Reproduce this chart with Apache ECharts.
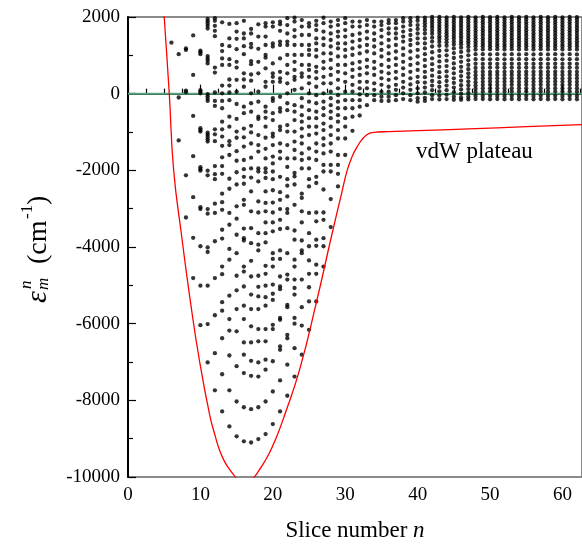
<!DOCTYPE html>
<html><head><meta charset="utf-8">
<script src="https://cdn.jsdelivr.net/npm/echarts@6/dist/echarts.min.js"></script>
<style>html,body{margin:0;padding:0;background:#fff}#c{width:582px;height:545px}</style>
</head><body><div id="c"></div>
<script>
// ---- data: eigenvalues (cm^-1) per slice n ----
const lv06 = [1330];
const lv07 = [1030, -100, -1220];
const lv08 = [1180, 1140, 80, 40, -2130, -3230];
const lv09 = [1520, 490, -580, -1630, -2700, -3760, -4810];
const lv10 = [1120, 1080, 1030, 90, 50, 10, -900, -950, -990, -1920, -1970, -2010, -2960, -3010, -3980, -5010, -6040];
const lv11 = [1950, 1890, 1830, 1770, 1700, 980, 920, 860, 790, -10, -70, -130, -190, -1020, -1070, -1130, -1190, -1250, -2010, -2130, -3010, -3130, -4010, -4130, -5010, -6010, -7010];
const lv12 = [1970, 1900, 1770, 1640, 1500, 680, 550, 30, -190, -320, -930, -1060, -1240, -1890, -2100, -2230, -2870, -3110, -3850, -4810, -5780, -6770, -7740];
const lv13 = [1860, 1270, 1110, 920, 750, 210, 10, -190, -380, -730, -930, -1120, -1360, -1660, -1890, -2090, -2610, -2830, -3030, -3550, -3780, -4510, -4710, -5440, -5660, -6380, -7320, -8290];
const lv14 = [1820, 1440, 1240, 900, 750, 370, 210, 30, -170, -600, -860, -1240, -1340, -1600, -2220, -2480, -3110, -3420, -4050, -4330, -5270, -5880, -6180, -6830, -7740, -8680];
const lv15 = [1840, 1620, 1430, 1160, 830, 680, 360, 50, -270, -660, -990, -1150, -1500, -1750, -2050, -2370, -2940, -3260, -3680, -4160, -4750, -5130, -5620, -6200, -7110, -8030, -8940];
const lv16 = [1900, 1570, 1440, 1240, 1030, 530, 370, 180, -340, -510, -910, -1140, -1380, -1730, -1970, -2170, -2350, -2770, -2900, -3520, -3770, -3830, -4510, -4640, -5030, -5530, -5880, -6490, -6810, -7290, -8180, -9070];
const lv17 = [2010, 1690, 1570, 1300, 1210, 850, 770, 500, 340, 10, -250, -470, -840, -1010, -1300, -1670, -1950, -2190, -2550, -3070, -3510, -3900, -4360, -4770, -5240, -5620, -6070, -6490, -6970, -7360, -8230, -9100];
const lv18 = [1810, 1490, 1170, 830, 530, 50, -210, -600, -660, -1080, -1340, -1510, -1950, -2030, -2290, -2810, -3100, -3640, -3940, -4090, -4750, -5040, -5290, -5620, -6140, -6460, -7010, -7380, -8180, -9010];
const lv19 = [1840, 1750, 1490, 1270, 1010, 940, 660, 310, 180, -340, -470, -630, -860, -1150, -1440, -1690, -1950, -2050, -2200, -2550, -2850, -3070, -3360, -3640, -3880, -4490, -4700, -5010, -5310, -5530, -6140, -6460, -6940, -7200, -8030, -8880];
const lv20 = [1860, 1750, 1310, 1230, 790, 530, 440, 310, -120, -190, -510, -690, -1040, -1120, -1340, -1640, -1820, -2030, -2230, -2520, -2840, -3100, -3360, -3590, -4160, -4310, -4510, -4980, -5220, -5380, -6030, -6140, -6980, -7770, -8620];
const lv21 = [1880, 1810, 1640, 1360, 1270, 920, 570, 400, 310, -80, -380, -470, -860, -950, -1300, -1510, -1690, -2170, -2570, -2770, -3010, -3290, -3530, -4090, -4310, -4770, -5030, -5100, -5850, -5900, -6590, -6680, -7480, -8290];
const lv22 = [1970, 1790, 1570, 1360, 1270, 1010, 750, 530, 270, 10, -250, -430, -820, -990, -1340, -1690, -1910, -2230, -2400, -2680, -3010, -3110, -3510, -4160, -4720, -4850, -5510, -5570, -6290, -6380, -7070, -7880];
const lv23 = [1980, 1880, 1660, 1490, 1270, 1010, 830, 620, 440, 360, 100, -300, -470, -690, -990, -1250, -1470, -1690, -2070, -2160, -2370, -2900, -3570, -3810, -4330, -4510, -4850, -5070, -5240, -5850, -6000, -6640, -7380];
const lv24 = [1920, 1750, 1530, 1270, 1010, 750, 530, 440, 140, -120, -340, -560, -730, -910, -1120, -1300, -1560, -1730, -1950, -2610, -2720, -3070, -3360, -3830, -4090, -4160, -4850, -5570, -6050, -6810];
const lv25 = [1840, 1750, 1530, 1270, 1140, 1010, 750, 620, 440, 270, 10, -210, -430, -640, -860, -1080, -1430, -1690, -1950, -2230, -2420, -3110, -3640, -3980, -4350, -4700, -5050, -5420, -6160];
const lv26 = [1900, 1790, 1660, 1440, 1310, 1140, 970, 700, 570, 400, 180, -40, -250, -470, -640, -860, -1040, -1300, -1510, -1730, -2170, -2330, -3100, -3330, -3810, -3970, -4460, -4700, -5420];
const lv27 = [1980, 1840, 1620, 1440, 1270, 1050, 830, 660, 440, 270, 10, -210, -380, -560, -780, -950, -1170, -1340, -1560, -1860, -2030, -2500, -3100, -3290, -3770, -3980, -4510];
const lv28 = [1880, 1750, 1570, 1400, 1230, 1050, 880, 660, 490, 270, 50, -120, -300, -470, -640, -860, -1080, -1300, -1510, -1860, -2030, -2750, -3480];
const lv29 = [1920, 1790, 1620, 1490, 1310, 1180, 970, 750, 570, 360, 140, -40, -210, -380, -560, -730, -950, -1170, -1600, -1860, -2090, -2420];
const lv30 = [1970, 1840, 1660, 1490, 1310, 1140, 970, 750, 530, 310, 50, -170, -380, -640, -860, -1170, -1600];
const lv31 = [1880, 1750, 1530, 1360, 1180, 1010, 790, 620, 440, 230, 50, -170, -380, -600, -970];
const lv32 = [1880, 1750, 1570, 1400, 1230, 1050, 830, 660, 490, 310, 140, -20, -170, -340, -570];
const lv33 = [1920, 1790, 1620, 1440, 1270, 1100, 880, 700, 530, 310, 140, -40, -300];
const lv34 = [1880, 1750, 1570, 1400, 1230, 1050, 830, 660, 490, 270, 100, -40, -170];
const lv35 = [1880, 1790, 1660, 1490, 1310, 1140, 970, 750, 570, 400, 230, 50, -80, -190];
const lv36 = [1920, 1840, 1700, 1570, 1400, 1230, 1050, 880, 700, 530, 360, 180, 50, -80, -190];
const lv37 = [1920, 1840, 1700, 1570, 1440, 1270, 1100, 920, 750, 570, 400, 230, 100, -40, -170];
const lv38 = [1970, 1880, 1750, 1620, 1490, 1360, 1180, 1010, 830, 660, 490, 310, 160, 10, -140];
const lv39 = [1970, 1880, 1790, 1660, 1530, 1400, 1270, 1100, 920, 750, 570, 400, 240, 100, -40, -170];
const lv40 = [1980, 1900, 1790, 1690, 1570, 1440, 1310, 1140, 970, 790, 620, 440, 300, 140, 10, -120, -210];
const lv41 = [1980, 1910, 1840, 1760, 1670, 1570, 1440, 1310, 1180, 1030, 880, 720, 570, 430, 290, 160, 30, -110, -190];
const lv42 = [2000, 1930, 1860, 1790, 1720, 1640, 1560, 1460, 1360, 1230, 1080, 920, 770, 620, 470, 330, 210, 90, -40, -140];
const lv43 = [2000, 1930, 1860, 1790, 1720, 1650, 1580, 1500, 1430, 1350, 1250, 1120, 980, 840, 700, 560, 430, 300, 180, 60, -50, -150];
const lv44 = [1990, 1920, 1850, 1780, 1710, 1640, 1570, 1500, 1420, 1340, 1250, 1130, 1000, 860, 720, 580, 450, 330, 210, 90, -30, -140];
const lv45 = [2000, 1930, 1860, 1790, 1720, 1650, 1580, 1510, 1440, 1360, 1280, 1180, 1060, 930, 790, 660, 530, 400, 280, 160, 40, -80, -160];
const lv46 = [1990, 1920, 1850, 1780, 1710, 1640, 1570, 1500, 1430, 1360, 1290, 1200, 1090, 960, 830, 700, 580, 460, 340, 220, 110, 0, -100, -160];
const lv47 = [2000, 1930, 1860, 1790, 1720, 1650, 1580, 1510, 1440, 1370, 1300, 1220, 1120, 1000, 870, 750, 640, 530, 430, 320, 220, 120, 20, -80, -150];
const lv48 = [1990, 1925, 1860, 1790, 1720, 1650, 1580, 1510, 1440, 1370, 1300, 1235, 1150, 1030, 900, 780, 670, 570, 480, 390, 300, 215, 130, 45, -60, -140];
const lv49 = [2000, 1935, 1865, 1795, 1725, 1655, 1585, 1515, 1445, 1375, 1305, 1240, 1155, 1030, 900, 775, 675, 575, 485, 400, 310, 225, 140, 50, -60, -140];
const lv50 = [1995, 1930, 1860, 1790, 1720, 1650, 1580, 1510, 1440, 1370, 1300, 1235, 1160, 1025, 895, 780, 680, 570, 490, 400, 315, 230, 140, 55, -55, -145];
const lv51 = [2000, 1935, 1865, 1795, 1725, 1655, 1585, 1515, 1445, 1375, 1305, 1240, 1160, 1030, 900, 775, 680, 575, 490, 400, 310, 225, 140, 50, -60, -140];
const lv52 = [1990, 1925, 1855, 1785, 1715, 1645, 1575, 1505, 1435, 1365, 1295, 1230, 1155, 1025, 895, 775, 675, 570, 485, 395, 310, 225, 135, 50, -60, -145];
const lv53 = [2000, 1935, 1865, 1795, 1725, 1655, 1585, 1515, 1445, 1375, 1305, 1240, 1160, 1030, 900, 780, 680, 575, 490, 400, 315, 230, 140, 55, -55, -140];
const lv54 = [1995, 1930, 1860, 1790, 1720, 1650, 1580, 1510, 1440, 1370, 1300, 1235, 1155, 1025, 900, 775, 675, 570, 485, 400, 310, 225, 140, 50, -60, -145];
const lv55 = [2000, 1935, 1865, 1795, 1725, 1655, 1585, 1515, 1445, 1375, 1305, 1240, 1160, 1030, 900, 780, 680, 575, 490, 400, 315, 230, 140, 55, -55, -140];
const lv56 = [1990, 1925, 1855, 1785, 1715, 1645, 1575, 1505, 1435, 1365, 1295, 1230, 1155, 1025, 895, 775, 675, 570, 485, 395, 310, 225, 135, 50, -60, -145];
const lv57 = [2000, 1935, 1865, 1795, 1725, 1655, 1585, 1515, 1445, 1375, 1305, 1240, 1160, 1030, 900, 780, 680, 575, 490, 400, 315, 230, 140, 55, -55, -140];
const lv58 = [1995, 1930, 1860, 1790, 1720, 1650, 1580, 1510, 1440, 1370, 1300, 1235, 1155, 1025, 900, 775, 675, 570, 485, 400, 310, 225, 140, 50, -60, -145];
const lv59 = [2000, 1935, 1865, 1795, 1725, 1655, 1585, 1515, 1445, 1375, 1305, 1240, 1160, 1030, 900, 780, 680, 575, 490, 400, 315, 230, 140, 55, -55, -140];
const lv60 = [1990, 1925, 1855, 1785, 1715, 1645, 1575, 1505, 1435, 1365, 1295, 1230, 1155, 1025, 895, 775, 675, 570, 485, 395, 310, 225, 135, 50, -60, -145];
const lv61 = [2000, 1935, 1865, 1795, 1725, 1655, 1585, 1515, 1445, 1375, 1305, 1240, 1160, 1030, 900, 780, 680, 575, 490, 400, 315, 230, 140, 55, -55, -140];
const lv62 = [1995, 1930, 1860, 1790, 1720, 1650, 1580, 1510, 1440, 1370, 1300, 1235, 1155, 1025, 900, 775, 675, 570, 485, 400, 310, 225, 140, 50, -60, -145];

const slices = [6,7,8,9,10,11,12,13,14,15,16,17,18,19,20,21,22,23,24,25,26,27,28,29,30,31,32,33,34,35,36,37,38,39,40,41,42,43,44,45,46,47,48,49,50,51,52,53,54,55,56,57,58,59,60,61,62];
const levels = [lv06,lv07,lv08,lv09,lv10,lv11,lv12,lv13,lv14,lv15,lv16,lv17,lv18,lv19,lv20,lv21,lv22,lv23,lv24,lv25,lv26,lv27,lv28,lv29,lv30,lv31,lv32,lv33,lv34,lv35,lv36,lv37,lv38,lv39,lv40,lv41,lv42,lv43,lv44,lv45,lv46,lv47,lv48,lv49,lv50,lv51,lv52,lv53,lv54,lv55,lv56,lv57,lv58,lv59,lv60,lv61,lv62];

// potential minimum curve (red)
const potN = [4.6, 5.0, 5.7, 6.3, 7.4, 8.6, 9.9, 11.3, 12.0, 12.7, 13.4, 14.1, 14.9, 15.6, 16.2, 16.8, 17.4, 18.3, 19.4, 20.5, 21.6, 23.7, 26.0, 28.1, 29.5, 30.3, 31.0, 31.6, 32.3, 33.0, 33.7, 34.5, 36, 40, 47, 55, 62.7];
const potE = [3200, 2000, 0, -1983, -3700, -5400, -7000, -8400, -8900, -9330, -9620, -9820, -10020, -10200, -10290, -10200, -10020, -9770, -9420, -8960, -8400, -7200, -5460, -3720, -2600, -1983, -1620, -1400, -1200, -1070, -1015, -1000, -990, -965, -920, -860, -809];

const xRange = [0, 62.7];
const yRange = [-10000, 2000];

// ---- build ----
const dots = [];
slices.forEach((n, i) => levels[i].forEach(v => dots.push([n, v])));
const pot = potN.map((n, i) => [n, potE[i]]);

const serif = '"Liberation Serif", "Times New Roman", serif';
const chart = echarts.init(document.getElementById('c'), null, {renderer: 'canvas'});
const yl = (t, x, y, size, italic) => ({
  type: 'text', x: x, y: y,
  style: {text: t, font: (italic ? 'italic ' : '') + size + 'px ' + serif, fill: '#000', align: 'left', verticalAlign: 'middle'}
});
chart.setOption({
  animation: false,
  grid: {left: 128, right: 0, top: 17, bottom: 68, show: true, borderColor: '#666', borderWidth: 1.5},
  xAxis: {
    type: 'value', min: xRange[0], max: xRange[1], interval: 10,
    axisLine: {show: true, lineStyle: {color: '#000', width: 2}},
    axisTick: {inside: true, length: 9, lineStyle: {color: '#000', width: 1.2}},
    minorTick: {show: true, splitNumber: 4, length: 5, lineStyle: {color: '#000', width: 1.2}},
    splitLine: {show: false},
    axisLabel: {margin: 9, fontFamily: serif, fontSize: 19, color: '#000', showMaxLabel: false,
      formatter: v => (Math.abs(v % 10) < 1e-9 ? String(v) : '')}
  },
  yAxis: {
    type: 'value', min: yRange[0], max: yRange[1], interval: 2000,
    axisLine: {show: true, lineStyle: {color: '#000', width: 2}},
    axisTick: {inside: true, length: 8, lineStyle: {color: '#000', width: 1.2}},
    minorTick: {show: true, splitNumber: 2, length: 5, lineStyle: {color: '#000', width: 1.2}},
    splitLine: {show: false},
    axisLabel: {margin: 8, fontFamily: serif, fontSize: 19, color: '#000', formatter: v => String(v)}
  },
  series: [
    {type: 'line', data: [[xRange[0], 0], [xRange[1], 0]], symbol: 'none', lineStyle: {color: '#5aa67c', width: 2}, z: 1, silent: true},
    {type: 'scatter', data: dots, symbol: 'circle', symbolSize: 4.3, itemStyle: {color: '#000'}, z: 2, silent: true},
    {type: 'line', data: pot, symbol: 'none', smooth: 0.5, lineStyle: {color: '#ff0000', width: 1.3}, z: 3, silent: true, clip: true}
  ],
  graphic: [
    {type: 'text', x: 416, y: 152, style: {text: 'vdW plateau', font: '23px ' + serif, fill: '#000', align: 'left', verticalAlign: 'middle'}},
    {type: 'text', x: 355, y: 531, style: {
      text: 'Slice number {i|n}', font: '23px ' + serif, fill: '#000', align: 'center', verticalAlign: 'middle',
      rich: {i: {fontStyle: 'italic', fontFamily: serif, fontSize: 23}}
    }},
    {type: 'group', x: 0, y: 0, rotation: Math.PI / 2, children: [
      yl('\u03b5', -303, 38.5, 30, true),
      yl('n', -289, 27, 17, true),
      yl('m', -290, 44, 17, true),
      yl('(cm', -264, 38.5, 28, false),
      yl('-1', -219, 27.5, 17, false),
      yl(')', -205, 38.5, 28, false)
    ]}
  ]
});
</script>
</body></html>
